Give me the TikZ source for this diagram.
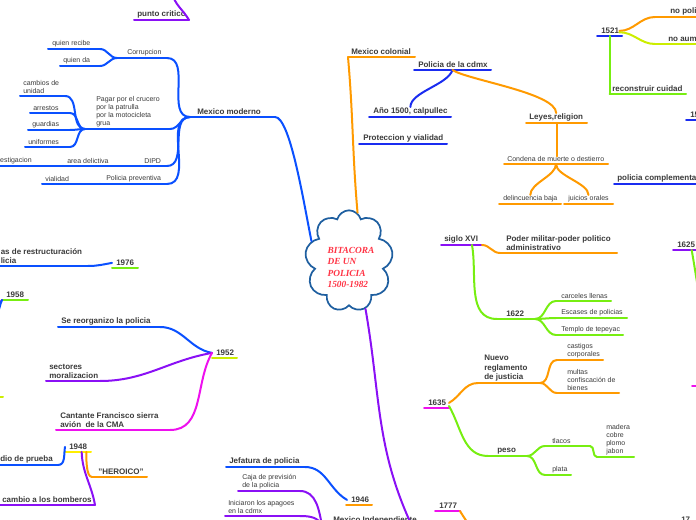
\documentclass[tikz,border=0pt]{standalone}
\usepackage{fontspec}
\setmainfont{Liberation Sans}
\newfontfamily\cloudfont{Liberation Serif}
\usetikzlibrary{shapes.symbols}
\definecolor{ink}{HTML}{3A3A3A}
\definecolor{mmblue}{HTML}{0A50FF}
\definecolor{mmdkblue}{HTML}{1A2CF0}
\definecolor{mmorange}{HTML}{FF9A00}
\definecolor{mmpurple}{HTML}{8A10F5}
\definecolor{mmmagenta}{HTML}{EE10EE}
\definecolor{mmgreen}{HTML}{77EE11}
\definecolor{mmyellowgreen}{HTML}{CCEE00}
\definecolor{mmyellow}{HTML}{FFEE00}
\definecolor{cloudblue}{HTML}{1F5FA0}
\definecolor{cloudred}{HTML}{FF3344}
\newcommand{\mmline}[5]{\coordinate (#1-l) at (#3,-#5);\coordinate (#1-r) at (#4,-#5);\coordinate (#1-m) at ({(#3+#4)/2},-#5);\draw[link,#2] (#1-l)--(#1-r);}
\newcommand{\topic}[7]{\mmline{#1}{#2}{#3}{#4}{#5}\node[headtext] (#1) at (#6,-#5+2) {#7};}
\newcommand{\leaf}[7]{\mmline{#1}{#2}{#3}{#4}{#5}\node[leaftext] (#1) at (#6,-#5+2) {#7};}

\begin{document}
\begin{tikzpicture}[x=0.75pt,y=0.75pt,
  link/.style={line width=1.5pt,line cap=round},
  headtext/.style={anchor=south west,inner sep=0pt,align=left,text=ink,font=\bfseries\fontsize{6}{6.8}\selectfont},
  leaftext/.style={anchor=south west,inner sep=0pt,align=left,text=ink,font=\fontsize{5.25}{6}\selectfont}]
\useasboundingbox (0,0) rectangle (696,-520);
\clip (0,0) rectangle (696,-520);
\node[cloud,cloud puffs=9,draw=cloudblue,line width=1.3pt,minimum width=66pt,minimum height=76pt,inner sep=0pt] (root) at (349,-261) {};
\node[inner sep=0pt,align=left,text=cloudred,font=\cloudfont\bfseries\itshape\fontsize{7}{8.6}\selectfont] (title) at (351,-267.5) {BITACORA\\DE UN\\POLICIA\\1500-1982};
\topic{crit}{mmpurple}{134}{189}{20}{137}{punto critico}
\coordinate (critup) at (172,8);
\draw[link,mmpurple] (crit-r) to[out=120,in=-80] (critup);
\topic{moderno}{mmblue}{190}{275}{117}{197}{Mexico moderno}
\leaf{corr}{mmblue}{117}{167}{58}{127}{Corrupcion}
\leaf{recibe}{mmblue}{48}{100}{49}{52}{quien recibe}
\leaf{da}{mmblue}{60}{100}{66}{63}{quien da}
\leaf{pagar}{mmblue}{85}{170}{129}{96}{Pagar por el crucero\\por la patrulla\\por la motocicleta\\grua}
\leaf{cambios}{mmblue}{20}{65}{96}{23}{cambios de\\unidad}
\leaf{arrestos}{mmblue}{30}{70}{113}{33}{arrestos}
\leaf{guardias}{mmblue}{28}{70}{130}{32}{guardias}
\leaf{uniformes}{mmblue}{25}{70}{147}{28}{uniformes}
\leaf{dipd}{mmblue}{140}{167}{166}{144}{DIPD}
\leaf{area}{mmblue}{63}{140}{166}{67}{area delictiva}
\leaf{invest}{mmblue}{-15}{63}{166}{-9}{investigacion}
\leaf{prev}{mmblue}{100}{167}{184}{106}{Policia preventiva}
\leaf{vial}{mmblue}{42}{100}{184}{45}{vialidad}
\draw[link,mmblue] (moderno-r) .. controls +(15,0) and +(-8,40) .. (root.152);
\draw[link,mmblue] (moderno-l) to[out=180,in=0] (corr-r);
\draw[link,mmblue] (moderno-l) to[out=180,in=0] (pagar-r);
\draw[link,mmblue] (moderno-l) to[out=180,in=0] (dipd-r);
\draw[link,mmblue] (moderno-l) to[out=180,in=0] (prev-r);
\draw[link,mmblue] (corr-l) to[out=180,in=0] (recibe-r);
\draw[link,mmblue] (corr-l) to[out=180,in=0] (da-r);
\draw[link,mmblue] (pagar-l) to[out=180,in=0] (cambios-r);
\draw[link,mmblue] (pagar-l) to[out=180,in=0] (arrestos-r);
\draw[link,mmblue] (pagar-l) to[out=180,in=0] (guardias-r);
\draw[link,mmblue] (pagar-l) to[out=180,in=0] (uniformes-r);
\draw[link,mmblue] (dipd-l) -- (area-r);
\draw[link,mmblue] (area-l) -- (invest-r);
\draw[link,mmblue] (prev-l) -- (vial-r);
\topic{y1976}{mmgreen}{112}{138}{268}{116}{1976}
\topic{restr}{mmblue}{-5}{88}{266}{0.5}{as de restructuración\\licia}
\draw[link,mmblue] (restr-r) to[out=0,in=190] ([xshift=-3pt]y1976.west);
\topic{y1958}{mmgreen}{2}{28}{300}{6}{1958}
\coordinate (p1958) at (-6,-310);
\coordinate (b1958) at (-3,-314);
\draw[link,mmpurple] (p1958) to[out=50,in=235] (y1958-l);
\draw[link,mmblue] (b1958) to[out=60,in=245] (y1958-l);
\coordinate (t397) at (-10,-397);
\draw[link,mmyellowgreen] (t397) -- ++(13,0);
\topic{y1952}{mmyellowgreen}{212}{237}{358}{216}{1952}
\topic{reorg}{mmblue}{58}{160}{327}{61}{Se reorganizo la policia}
\topic{sect}{mmpurple}{46}{100}{381}{49}{sectores\\moralizacion}
\topic{cant}{mmmagenta}{56}{170}{430}{60}{Cantante Francisco sierra\\avión\ \ de la CMA}
\draw[link,mmblue] (reorg-r) to[out=0,in=170] ([xshift=-3pt]y1952.west);
\draw[link,mmpurple] (sect-r) to[out=0,in=190] ([xshift=-3pt]y1952.west);
\draw[link,mmmagenta] (cant-r) to[out=0,in=240] ([xshift=-3pt]y1952.west);
\topic{y1948}{mmyellow}{65}{91}{452}{69}{1948}
\topic{prueba}{mmblue}{-5}{58}{465}{0}{dio de prueba}
\topic{heroico}{mmorange}{92}{147}{477}{98}{"HEROICO"}
\topic{bomb}{mmpurple}{-5}{95}{505}{2}{cambio a los bomberos}
\draw[link,mmblue] (prueba-r) to[out=0,in=-100] ([xshift=-3pt]y1948.west);
\draw[link,mmorange] ([xshift=-3.5pt]y1948-r) to[out=-90,in=180,looseness=0.6] (heroico-l);
\draw[link,mmpurple] ([xshift=-7pt]y1948-r) to[out=-88,in=100] (bomb-r);
\topic{jef}{mmblue}{226}{305}{467}{229}{Jefatura de policia}
\topic{y1946}{mmorange}{346}{372}{505}{351}{1946}
\leaf{caja}{mmpurple}{238}{300}{491}{242}{Caja de previsión\\de la policia}
\leaf{apag}{mmpurple}{225}{300}{516}{228}{Iniciaron los apagoes\\en la cdmx}
\topic{indep}{mmpurple}{322}{412}{526}{333}{Mexico Independiente}
\draw[link,mmblue] (jef-r) to[out=0,in=150] ([xshift=-3pt]y1946.west);
\draw[link,mmpurple] (caja-r) to[out=0,in=100] (indep-l);
\draw[link,mmpurple] (apag-r) to[out=0,in=110] (indep-l);
\draw[link,mmpurple] (root.-71) to[out=-80,in=115] (indep-r);
\topic{colonial}{mmorange}{348}{415}{57}{351}{Mexico colonial}
\topic{cdmx}{mmdkblue}{414}{491}{70}{418}{Policia de la cdmx}
\topic{anio}{mmdkblue}{369}{451}{117}{373}{Año 1500, calpullec}
\topic{prot}{mmdkblue}{359}{447}{144}{363}{Proteccion y vialidad}
\topic{leyes}{mmorange}{526}{587}{123}{529}{Leyes,religion}
\leaf{condena}{mmorange}{504}{608}{164}{507}{Condena de muerte o destierro}
\leaf{delinc}{mmorange}{499}{561}{204}{503}{delincuencia baja}
\leaf{juicios}{mmorange}{564}{613}{204}{568}{juicios orales}
\draw[link,mmorange] (root.80) to[out=95,in=-85] (colonial-l);
\draw[link,mmdkblue] (cdmx-m) .. controls +(-5,-15) and +(0,15) .. (anio.north);
\draw[link,mmorange] (cdmx-m) .. controls +(15,-10) and +(0,20) .. (leyes.north);
\draw[link,mmorange] (leyes-m) -- (leyes-m |- condena.north);
\draw[link,mmorange] (condena-m) .. controls +(0,-12) and +(0,12) .. (delinc.north);
\draw[link,mmorange] (condena-m) .. controls +(0,-12) and +(0,12) .. (juicios.north);
\topic{y1521}{mmdkblue}{597}{622}{36}{601}{1521}
\topic{nopoli}{mmorange}{655}{705}{17}{670}{no policia}
\topic{noaum}{mmyellowgreen}{655}{705}{44}{668}{no aumento}
\topic{recon}{mmgreen}{609.5}{686}{94}{612}{reconstruir cuidad}
\topic{y15}{mmdkblue}{686}{705}{120}{690}{15}
\topic{compl}{mmdkblue}{614}{705}{184}{617}{policia complementaria}
\draw[link,mmorange] (y1521.east) to[out=0,in=180] (nopoli-l);
\draw[link,mmyellowgreen] ([yshift=-1pt]y1521.east) to[out=0,in=180] (noaum-l);
\draw[link,mmgreen] (y1521-m) -- (recon-l);
\topic{siglo}{mmpurple}{441}{482}{245}{444}{siglo XVI}
\topic{poder}{mmorange}{500}{617}{253}{506}{Poder militar-poder politico\\administrativo}
\topic{y1622}{mmgreen}{497}{535}{319}{506}{1622}
\leaf{carc}{mmgreen}{556}{611}{301}{561}{carceles llenas}
\leaf{escas}{mmgreen}{556}{627}{318}{561}{Escases de policias}
\leaf{templo}{mmgreen}{556}{623}{335}{561}{Templo de tepeyac}
\draw[link,mmorange] (siglo-r) to[out=0,in=180] (poder-l);
\draw[link,mmgreen] ([xshift=-7.5pt]siglo-r) to[out=-80,in=180] (y1622-l);
\draw[link,mmgreen] (y1622-r) to[out=0,in=180] (carc-l);
\draw[link,mmgreen] (y1622-r) to[out=0,in=180] (escas-l);
\draw[link,mmgreen] (y1622-r) to[out=0,in=180] (templo-l);
\topic{y1625}{mmpurple}{673}{705}{250}{677}{1625}
\coordinate (g1625) at (700,-300);
\draw[link,mmgreen] ([xshift=2pt]y1625-m) to[out=-80,in=100] (g1625);
\coordinate (m386) at (692,-386);
\draw[link,mmmagenta] (m386) -- ++(12,0);
\topic{y1635}{mmmagenta}{424}{449}{408}{428}{1635}
\topic{nuevo}{mmorange}{478}{540}{383}{484}{Nuevo\\reglamento\\de justicia}
\leaf{castigos}{mmorange}{557}{603}{360}{567}{castigos\\corporales}
\leaf{multas}{mmorange}{557}{619}{393}{567}{multas\\confiscación de\\bienes}
\topic{peso}{mmgreen}{488}{527}{456}{497}{peso}
\leaf{tlacos}{mmgreen}{545}{590}{446}{552}{tlacos}
\leaf{plata}{mmgreen}{545}{571}{475}{552}{plata}
\leaf{madera}{mmgreen}{597}{634}{457}{606}{madera\\cobre\\plomo\\jabon}
\draw[link,mmorange] ([xshift=2pt]y1635.east) to[out=30,in=180] (nuevo-l);
\draw[link,mmorange] (nuevo-r) to[out=0,in=180] (castigos-l);
\draw[link,mmorange] (nuevo-r) to[out=0,in=180] (multas-l);
\draw[link,mmgreen] ([xshift=2pt]y1635.south east) to[out=-60,in=180] (peso-l);
\draw[link,mmgreen] (peso-r) to[out=0,in=180] (tlacos-l);
\draw[link,mmgreen] (peso-r) to[out=0,in=180] (plata-l);
\draw[link,mmgreen] (tlacos-r) to[out=0,in=180] (madera-l);
\topic{y1777}{mmmagenta}{435}{460}{511}{439}{1777}
\coordinate (o1777) at (472,-532);
\draw[link,mmorange] (y1777-r) to[out=-60,in=110] (o1777);
\node[headtext] (y17) at (681,-523) {17};
\end{tikzpicture}
\end{document}
